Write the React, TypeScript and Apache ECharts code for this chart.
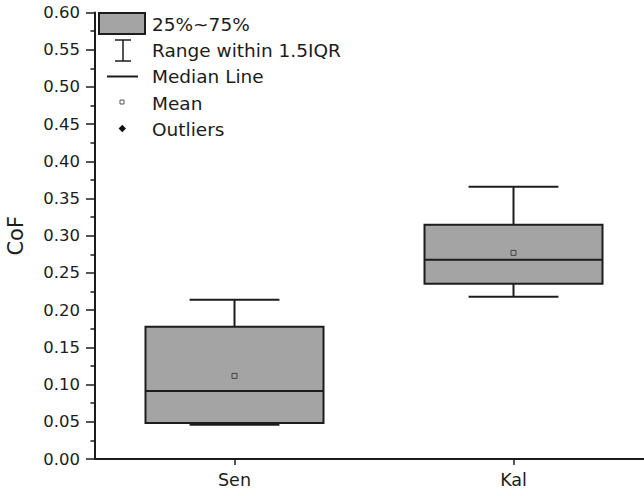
import React, { useEffect, useRef } from "react";
import * as echarts from "echarts";

const categories = ["Sen", "Kal"];
const lowWhisker = [0.046, 0.218];
const q1Values = [0.0484, 0.2354];
const medianValues = [0.0915, 0.2677];
const q3Values = [0.1776, 0.3148];
const highWhisker = [0.214, 0.366];
const meanValues = [0.1117, 0.277];
const legendLabels = ["25%~75%", "Range within 1.5IQR", "Median Line", "Mean", "Outliers"];

const FONT = "DejaVu Sans";
const INK = "#1c1c1c";
const BOX_FILL = "#a4a4a4";

export default function App() {
  const ref = useRef<HTMLDivElement>(null);

  useEffect(() => {
    if (!ref.current) return;
    const chart = echarts.init(ref.current, undefined, { renderer: "svg" });

    const data = categories.map((_, i) => [
      i,
      lowWhisker[i],
      q1Values[i],
      medianValues[i],
      q3Values[i],
      highWhisker[i],
      meanValues[i],
    ]);

    const legendYs = [24, 50.5, 76.5, 103.5, 129.5];
    const legendText = legendLabels.map((t, i) => ({
      type: "text",
      x: 152,
      y: legendYs[i],
      style: {
        text: t,
        fontSize: 18.5,
        fontFamily: FONT,
        fill: INK,
        verticalAlign: "middle",
        align: "left",
      },
    }));

    const option: any = {
      animation: false,
      backgroundColor: "#ffffff",
      grid: {
        left: 95,
        width: 558,
        top: 12.5,
        bottom: 37,
        containLabel: false,
        outerBoundsMode: "none",
        show: false,
      },
      xAxis: {
        type: "category",
        data: categories,
        boundaryGap: true,
        axisLine: { show: true, lineStyle: { color: INK, width: 2 } },
        axisTick: { show: true, alignWithLabel: true, length: 6, lineStyle: { color: INK, width: 1.5 } },
        axisLabel: { fontSize: 17.5, fontFamily: FONT, color: INK, margin: 12 },
        splitLine: { show: false },
        splitArea: { show: false },
        minorTick: { show: false },
        minorSplitLine: { show: false },
      },
      yAxis: {
        type: "value",
        min: 0,
        max: 0.6,
        interval: 0.05,
        name: "CoF",
        nameLocation: "middle",
        nameGap: 69,
        nameTextStyle: { fontSize: 21, fontFamily: FONT, color: INK },
        axisLine: { show: true, lineStyle: { color: INK, width: 2 } },
        axisTick: { show: true, length: 9, lineStyle: { color: INK, width: 1.5 } },
        minorTick: { show: true, splitNumber: 2, length: 4.5, lineStyle: { color: INK, width: 1.5 } },
        axisLabel: {
          fontSize: 16.5,
          fontFamily: FONT,
          color: INK,
          margin: 15,
          formatter: (v: number) => v.toFixed(2),
        },
        splitLine: { show: false },
        splitArea: { show: false },
        minorSplitLine: { show: false },
      },
      series: [
        {
          type: "custom",
          data,
          clip: false,
          encode: { x: 0, y: [1, 2, 3, 4, 5, 6] },
          renderItem: (params: any, api: any) => {
            const idx = api.value(0);
            const band = api.size([1, 0])[0];
            const bw = band * 0.638;
            const cw = band * 0.322;
            const pLow = api.coord([idx, api.value(1)]);
            const pQ1 = api.coord([idx, api.value(2)]);
            const pMed = api.coord([idx, api.value(3)]);
            const pQ3 = api.coord([idx, api.value(4)]);
            const pHigh = api.coord([idx, api.value(5)]);
            const pMean = api.coord([idx, api.value(6)]);
            const cx = pMed[0];
            const ls = { stroke: INK, lineWidth: 2 };
            return {
              type: "group",
              children: [
                { type: "line", shape: { x1: cx, y1: pQ3[1], x2: cx, y2: pHigh[1] }, style: ls },
                { type: "line", shape: { x1: cx, y1: pQ1[1], x2: cx, y2: pLow[1] }, style: ls },
                { type: "line", shape: { x1: cx - cw / 2, y1: pHigh[1], x2: cx + cw / 2, y2: pHigh[1] }, style: ls },
                { type: "line", shape: { x1: cx - cw / 2, y1: pLow[1], x2: cx + cw / 2, y2: pLow[1] }, style: ls },
                {
                  type: "rect",
                  shape: { x: cx - bw / 2, y: pQ3[1], width: bw, height: pQ1[1] - pQ3[1] },
                  style: { fill: BOX_FILL, stroke: INK, lineWidth: 2 },
                },
                { type: "line", shape: { x1: cx - bw / 2, y1: pMed[1], x2: cx + bw / 2, y2: pMed[1] }, style: ls },
                {
                  type: "rect",
                  shape: { x: cx - 2.5, y: pMean[1] - 2.5, width: 5, height: 5 },
                  style: { fill: "none", stroke: "#444", lineWidth: 1 },
                },
              ],
            };
          },
        },
      ],
      graphic: [
        {
          type: "rect",
          shape: { x: 99, y: 13, width: 46, height: 21 },
          style: { fill: BOX_FILL, stroke: INK, lineWidth: 2 },
        },
        { type: "line", shape: { x1: 123, y1: 40, x2: 123, y2: 61 }, style: { stroke: INK, lineWidth: 1.5 } },
        { type: "line", shape: { x1: 115, y1: 40, x2: 131, y2: 40 }, style: { stroke: INK, lineWidth: 1.5 } },
        { type: "line", shape: { x1: 115, y1: 61, x2: 131, y2: 61 }, style: { stroke: INK, lineWidth: 1.5 } },
        { type: "line", shape: { x1: 107, y1: 76.5, x2: 138, y2: 76.5 }, style: { stroke: INK, lineWidth: 2 } },
        {
          type: "rect",
          shape: { x: 120, y: 100, width: 4, height: 4 },
          style: { fill: "none", stroke: "#555", lineWidth: 1 },
        },
        {
          type: "polygon",
          shape: { points: [[122.3, 124.8], [126, 128.5], [122.3, 132.2], [118.6, 128.5]] },
          style: { fill: "#111" },
        },
        ...legendText,
      ],
    };

    chart.setOption(option);
    return () => chart.dispose();
  }, []);

  return (
    <div
      ref={ref}
      style={{
        position: "absolute",
        left: 0,
        top: 0,
        width: 644,
        height: 496,
        background: "#fff",
        overflow: "hidden",
      }}
    />
  );
}
